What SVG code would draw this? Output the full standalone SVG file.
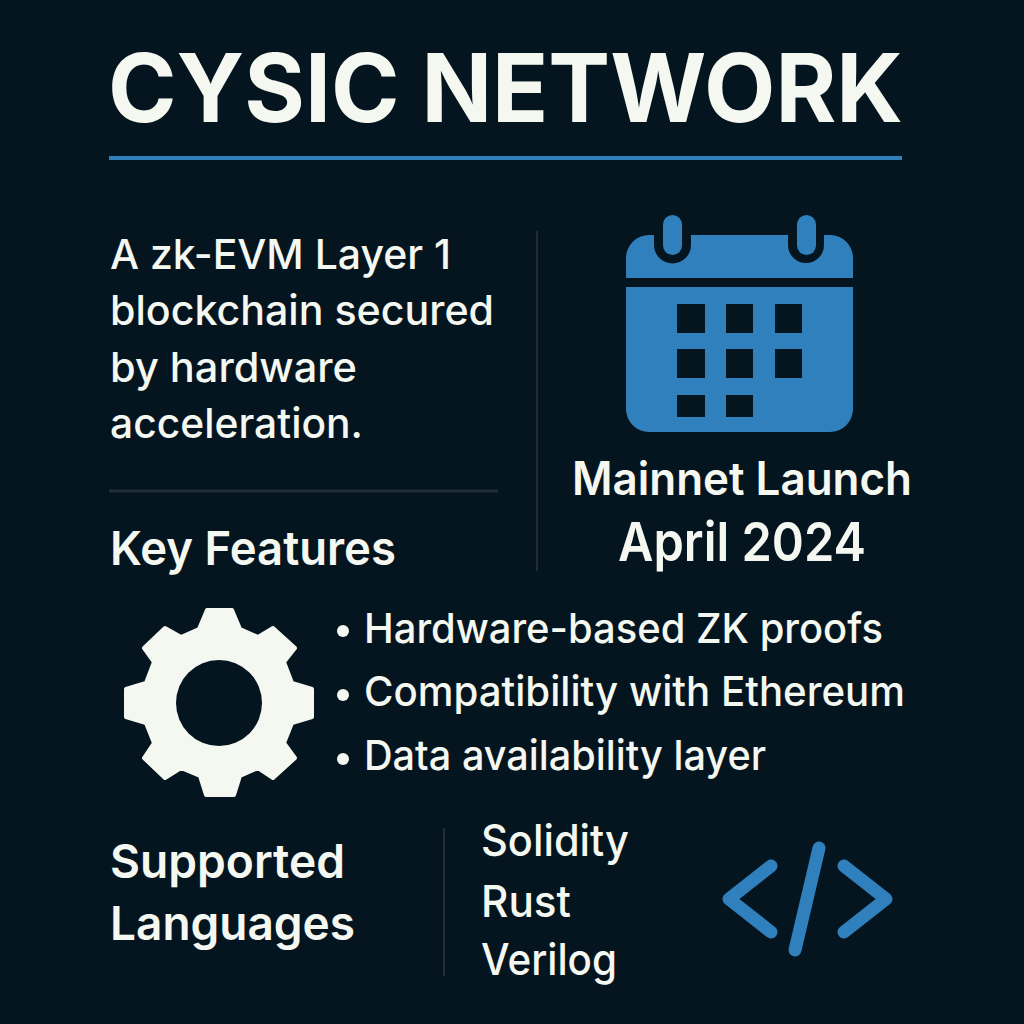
<svg xmlns="http://www.w3.org/2000/svg" width="1024" height="1024" viewBox="0 0 1024 1024">
<style>
text{font-family:"Inter","Liberation Sans",sans-serif;fill:#f4f8f1;font-weight:500}
.h{font-size:47px;font-weight:600}
.p{font-size:41px;font-weight:500}
.l{font-size:44px;font-weight:500}
.m{font-weight:600}
.bl{fill:#2f80bd}
.dk{fill:#051520}
.rule{stroke:#1f2e39;stroke-width:3;fill:none}
.thin{stroke-width:2}
</style>
<rect width="1024" height="1024" fill="#051520"/>
<g id="title">
<text x="108" y="122" font-size="95" style="font-weight:700" textLength="795" lengthAdjust="spacingAndGlyphs">CYSIC NETWORK</text>
<rect x="109" y="156" width="793" height="4" class="bl"/>
</g>
<g id="description">
<text class="p" x="110" y="269" textLength="341" lengthAdjust="spacingAndGlyphs">A zk-EVM Layer 1</text>
<text class="p" x="110" y="325" textLength="384" lengthAdjust="spacingAndGlyphs">blockchain secured</text>
<text class="p" x="110" y="382" textLength="247" lengthAdjust="spacingAndGlyphs">by hardware</text>
<text class="p" x="110" y="438" textLength="253" lengthAdjust="spacingAndGlyphs">acceleration.</text>
</g>
<g id="dividers">
<line class="rule" x1="109" y1="491" x2="498" y2="491"/>
<line class="rule thin" x1="537" y1="231" x2="537" y2="571"/>
<line class="rule thin" x1="444" y1="828" x2="444" y2="976"/>
</g>
<g id="calendar">
<path class="bl" d="M626 278V258a23 23 0 0 1 23-23H830a23 23 0 0 1 23 23V278ZM626 287H853V409a23 23 0 0 1-23 23H649a23 23 0 0 1-23-23Z"/>
<path class="dk" d="M654 230H691V245a18.500 18.500 0 0 1-37 0ZM788 230H824V245a18 18 0 0 1-36 0Z"/>
<rect class="bl" x="663" y="215" width="19" height="40" rx="9.500"/>
<rect class="bl" x="797" y="215" width="19" height="40" rx="9.500"/>
<g class="dk">
<rect x="677" y="304" width="28" height="29"/><rect x="726" y="304" width="27" height="29"/><rect x="775" y="304" width="27" height="29"/>
<rect x="677" y="349" width="28" height="29"/><rect x="726" y="349" width="27" height="29"/><rect x="775" y="349" width="27" height="29"/>
<rect x="677" y="395" width="28" height="22"/><rect x="726" y="395" width="27" height="22"/>
</g>
</g>
<g id="mainnet">
<text class="m" x="572" y="495" font-size="46" textLength="340" lengthAdjust="spacingAndGlyphs">Mainnet Launch</text>
<text class="m" x="618" y="561" font-size="54" textLength="248" lengthAdjust="spacingAndGlyphs">April 2024</text>
</g>
<g id="key-features"><text class="h" x="110" y="565" textLength="286" lengthAdjust="spacingAndGlyphs">Key Features</text></g>
<g id="gear">
<path fill="#f4f8f1" stroke="#f4f8f1" stroke-width="4" stroke-linejoin="round" d="M207 610H232L240 629 258 637 273 628 295 648 284 662 292 683 312 689V717L292 723 284 743 295 758 273 778 258 768 240 776 234 795H206L200 776 181 768 165 778 144 758 154 743 146 723 126 717V689L146 683 154 662 144 648 165 628 181 637 199 629Z"/>
<circle class="dk" cx="219" cy="703" r="43"/>
</g>
<g id="features">
<circle cx="343" cy="631" r="6" fill="#f4f8f1"/>
<text class="p" x="364" y="643" textLength="519" lengthAdjust="spacingAndGlyphs">Hardware-based ZK proofs</text>
<circle cx="343" cy="695" r="6" fill="#f4f8f1"/>
<text class="p" x="364" y="706" textLength="541" lengthAdjust="spacingAndGlyphs">Compatibility with Ethereum</text>
<circle cx="343" cy="759" r="6" fill="#f4f8f1"/>
<text class="p" x="364" y="770" textLength="402" lengthAdjust="spacingAndGlyphs">Data availability layer</text>
</g>
<g id="supported">
<text class="h" x="110" y="878" textLength="235" lengthAdjust="spacingAndGlyphs">Supported</text>
<text class="h" x="110" y="940" textLength="245" lengthAdjust="spacingAndGlyphs">Languages</text>
</g>
<g id="languages">
<text class="l" x="481" y="856" textLength="148" lengthAdjust="spacingAndGlyphs">Solidity</text>
<text class="l" x="481" y="917" textLength="90" lengthAdjust="spacingAndGlyphs">Rust</text>
<text class="l" x="481" y="975" textLength="136" lengthAdjust="spacingAndGlyphs">Verilog</text>
</g>
<g id="code" fill="none" stroke="#2f80bd" stroke-width="13" stroke-linecap="round" stroke-linejoin="round">
<path d="M771 866 729 899 771 932M844 866 886 899 844 932"/>
<path d="M819 848 795 950"/>
</g>
</svg>
